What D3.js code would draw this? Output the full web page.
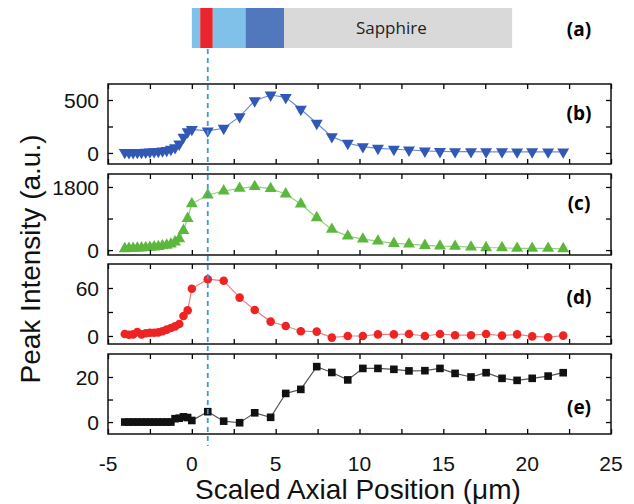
<!DOCTYPE html>
<html>
<head>
<meta charset="utf-8">
<script src="https://cdn.jsdelivr.net/npm/d3@7"></script>
<style>
  body { margin: 0; background: #fff; }
  svg { display: block; }
</style>
</head>
<body>
<div id="chart"></div>
<script>
const w = 634
const h = 504

// axial positions (um)
const posLeft = [-4, -3.75, -3.5, -3.25, -3, -2.75, -2.5, -2.25, -2, -1.75, -1.5, -1.25, -1, -0.75, -0.5, -0.25, 0]
const posRight = [0.95, 1.9, 2.85, 3.75, 4.7, 5.6, 6.5, 7.45, 8.35, 9.3, 10.2, 11.1, 12.05, 12.95, 13.9, 14.8, 15.7, 16.65, 17.55, 18.5, 19.4, 20.3, 21.25, 22.15]

// peak intensities (a.u.)
const peakB = [5, 3, 4, 5, 6, 8, 10, 12, 15, 20, 25, 35, 50, 85, 150, 200, 222,
  208, 233, 343, 493, 547, 525, 412, 280, 154, 92, 60, 44, 35, 28, 19, 14, 12, 12, 11, 11, 10, 11, 10, 10]
const peakC = [40, 45, 50, 55, 60, 70, 80, 90, 100, 120, 140, 170, 230, 320, 560, 900, 1320,
  1571, 1686, 1762, 1810, 1752, 1600, 1314, 924, 590, 400, 314, 257, 190, 171, 133, 114, 105, 86, 67, 67, 48, 48, 48, 38]
const peakD = [2.5, 1.5, 2, 5, 2, 3.5, 4, 4, 4.5, 6, 8, 10, 12, 15, 25, 32, 59,
  71, 69, 48, 32.5, 18, 12.5, 6, 5.5, -2, 0, 0, 2, 2, 2.5, 0, 2.5, 1, 1, 2.5, 0.5, 2, -0.5, -1.5, 0.5]
const peakE = [0, 0, 0, 0, 0, 0, 0, 0, 0, 0, 0, 0, 1.5, 1.7, 2.3, 2.0, 0.7,
  4.6, 0.4, -0.3, 4.1, 2.1, 12.7, 14.5, 24.6, 22, 18.7, 23.8, 23.8, 23.4, 22.7, 22.8, 23.8, 21.6, 20, 21.9, 19.4, 18.5, 19.4, 20.4, 21.9]

// layer structure in panel (a)
const layerNames = ['buffer', 'active', 'buffer2', 'contact', 'Sapphire']
const layerStart = [0, 0.5, 1.25, 3.2, 5.5]
const layerEnd = [0.5, 1.25, 3.2, 5.5, 19.1]
const layerColors = ['#80c1ea', '#e8262b', '#80c1ea', '#5178bd', '#d9d9d9']

const markerPos = 0.95
const xTicks = [-5, 0, 5, 10, 15, 20, 25]

const panels = [
  { label: '(b)', values: peakB, top: 84, bottom: 164, domain: [-104, 651], ticks: [0, 250, 500], labels: [0, 500],
    symbol: d3.symbolTriangle, rotate: 180, fill: '#3058b4', line: '#6a8fd6', labelY: 120 },
  { label: '(c)', values: peakC, top: 174, bottom: 255, domain: [-140, 2170], ticks: [0, 900, 1800], labels: [0, 1800],
    symbol: d3.symbolTriangle, rotate: 0, fill: '#5cb83c', line: '#8fd47a', labelY: 210 },
  { label: '(d)', values: peakD, top: 264, bottom: 344, domain: [-10, 90], ticks: [0, 30, 60], labels: [0, 60],
    symbol: d3.symbolCircle, rotate: 0, fill: '#ee2424', line: '#f08080', labelY: 304 },
  { label: '(e)', values: peakE, top: 354, bottom: 434, domain: [-5.3, 30.2], ticks: [0, 10, 20], labels: [0, 20],
    symbol: d3.symbolSquare, rotate: 0, fill: '#111111', line: '#555555', labelY: 414 }
]

const positions = posLeft.concat(posRight)

const x = d3.scaleLinear().domain([-5, 25]).range([108, 611])
const xMinor = d3.range(-5, 25.01, 2.5)

const svg = d3.select('#chart').append('svg')
  .attr('width', w)
  .attr('height', h)
  .style('font-family', "'Liberation Sans', Arial, sans-serif")

// panel (a) - layer bar
svg.selectAll('rect.layer')
  .data(layerNames).enter()
  .append('rect')
    .attr('class', 'layer')
    .attr('x', (d, i) => x(layerStart[i]))
    .attr('y', 8)
    .attr('width', (d, i) => x(layerEnd[i]) - x(layerStart[i]))
    .attr('height', 40)
    .attr('fill', (d, i) => layerColors[i])

svg.append('text')
  .attr('x', x(11.9))
  .attr('y', 34)
  .attr('text-anchor', 'middle')
  .style('font-family', "'Open Sans', sans-serif")
  .style('font-size', '17px')
  .attr('fill', '#222')
  .text('Sapphire')

svg.append('text')
  .attr('x', 579)
  .attr('y', 36)
  .attr('text-anchor', 'middle')
  .style('font-family', "'Open Sans', sans-serif")
  .style('font-size', '19px')
  .style('font-weight', 700)
  .text('(a)')

panels.forEach(p => {
  const y = d3.scaleLinear().domain(p.domain).range([p.bottom, p.top])
  const g = svg.append('g')

  const pts = positions.map((d, i) => ({ x: d, v: p.values[i] }))

  g.append('path')
    .datum(pts)
    .attr('fill', 'none')
    .attr('stroke', p.line)
    .attr('stroke-width', 1.2)
    .attr('d', d3.line().x(d => x(d.x)).y(d => y(d.v)))

  g.selectAll('path.pt')
    .data(pts).enter()
    .append('path')
      .attr('class', 'pt')
      .attr('d', d3.symbol().type(p.symbol).size(p.symbol === d3.symbolTriangle ? 62 : 58))
      .attr('transform', d => `translate(${x(d.x)},${y(d.v)}) rotate(${p.rotate})`)
      .attr('fill', p.fill)

  // x ticks top & bottom (inward)
  g.append('g')
    .attr('transform', `translate(0,${p.bottom})`)
    .call(d3.axisTop(x).tickValues(xMinor).tickSize(5).tickFormat(''))
    .call(a => a.select('.domain').remove())
    .call(a => a.selectAll('.tick line').attr('stroke-width', 1.3))
  g.append('g')
    .attr('transform', `translate(0,${p.top})`)
    .call(d3.axisBottom(x).tickValues(xMinor).tickSize(5).tickFormat(''))
    .call(a => a.select('.domain').remove())
    .call(a => a.selectAll('.tick line').attr('stroke-width', 1.3))

  // y ticks left & right (inward)
  g.append('g')
    .attr('transform', `translate(${x.range()[0]},0)`)
    .call(d3.axisRight(y).tickValues(p.ticks).tickSize(5).tickFormat(''))
    .call(a => a.select('.domain').remove())
    .call(a => a.selectAll('.tick line').attr('stroke-width', 1.3))
  g.append('g')
    .attr('transform', `translate(${x.range()[1]},0)`)
    .call(d3.axisLeft(y).tickValues(p.ticks).tickSize(5).tickFormat(''))
    .call(a => a.select('.domain').remove())
    .call(a => a.selectAll('.tick line').attr('stroke-width', 1.3))

  g.selectAll('text.ylab')
    .data(p.labels).enter()
    .append('text')
      .attr('class', 'ylab')
      .attr('x', 99)
      .attr('y', d => y(d))
      .attr('dy', '0.36em')
      .attr('text-anchor', 'end')
      .style('font-size', '21px')
      .attr('fill', '#111')
      .text(d => d)

  g.append('rect')
    .attr('x', x.range()[0])
    .attr('y', p.top)
    .attr('width', x.range()[1] - x.range()[0])
    .attr('height', p.bottom - p.top)
    .attr('fill', 'none')
    .attr('stroke', '#111')
    .attr('stroke-width', 1.5)

  g.append('text')
    .attr('x', 579)
    .attr('y', p.labelY)
    .attr('text-anchor', 'middle')
    .style('font-family', "'Open Sans', sans-serif")
    .style('font-size', '19px')
    .style('font-weight', 700)
    .text(p.label)
})

// dashed marker line
svg.append('line')
  .attr('x1', x(markerPos))
  .attr('x2', x(markerPos))
  .attr('y1', 49)
  .attr('y2', 446)
  .attr('stroke', '#3a9ae0')
  .attr('stroke-width', 1.8)
  .attr('stroke-dasharray', '5,4')

// bottom tick labels
svg.selectAll('text.xlab')
  .data(xTicks).enter()
  .append('text')
    .attr('class', 'xlab')
    .attr('x', d => x(d))
    .attr('y', 471)
    .attr('text-anchor', 'middle')
    .style('font-size', '21px')
    .attr('fill', '#111')
    .text(d => d)

svg.append('text')
  .attr('x', 358)
  .attr('y', 499)
  .attr('text-anchor', 'middle')
  .style('font-size', '28px')
  .attr('fill', '#111')
  .text('Scaled Axial Position (\u03bcm)')

svg.append('text')
  .attr('transform', `translate(40,${(84 + 434) / 2}) rotate(-90)`)
  .attr('text-anchor', 'middle')
  .style('font-size', '28px')
  .attr('fill', '#111')
  .text('Peak Intensity (a.u.)')
</script>
</body>
</html>
